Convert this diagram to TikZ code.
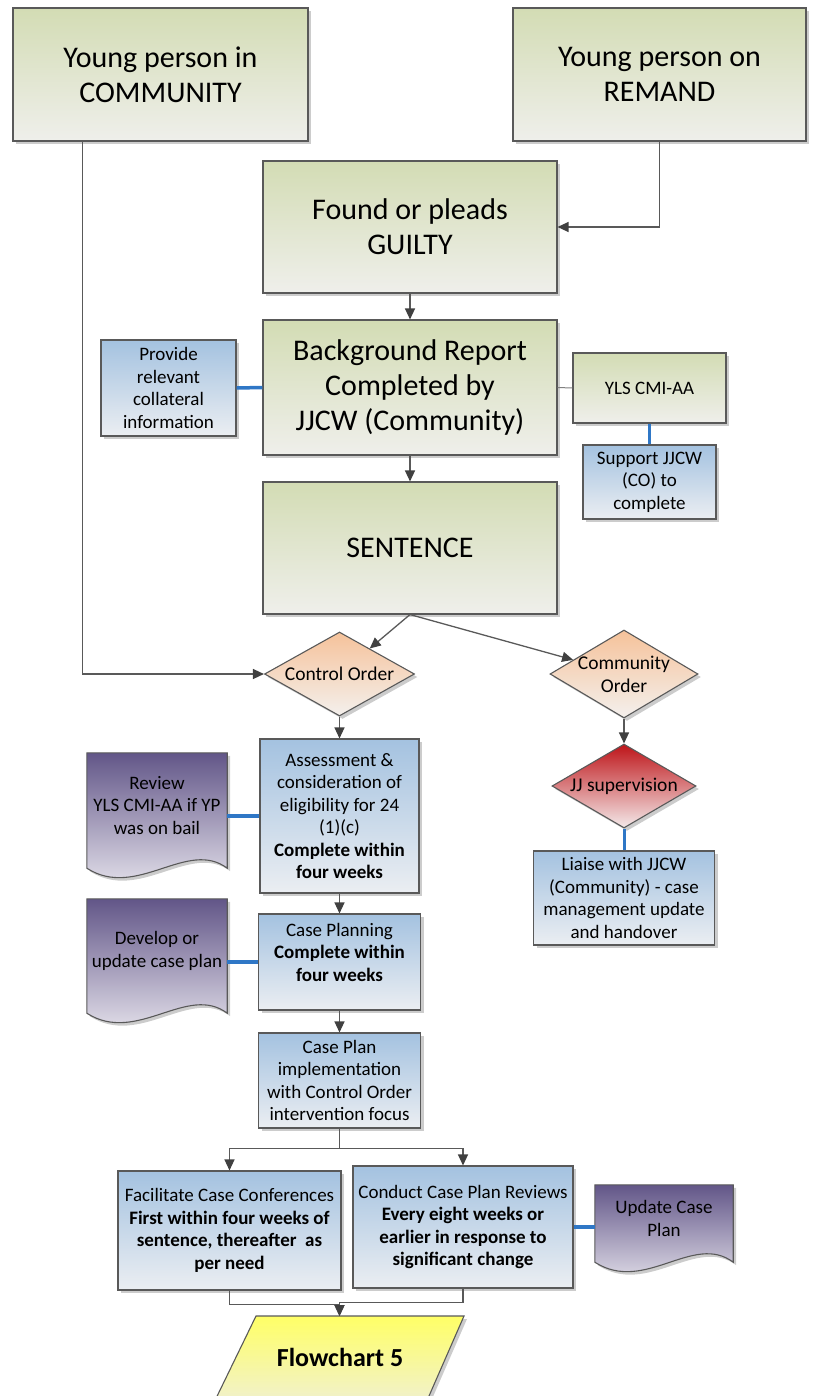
\documentclass[tikz,border=0pt]{standalone}
\usepackage{fontspec}
\setmainfont{Carlito}
\usetikzlibrary{arrows.meta,shapes.geometric,shadows}

\definecolor{linegray}{HTML}{595959}
\definecolor{tipgray}{HTML}{404040}
\definecolor{linkblue}{HTML}{2F77C6}
\definecolor{greentop}{HTML}{D3DCB4}
\definecolor{greenbot}{HTML}{EFEFEB}
\definecolor{bluetop}{HTML}{A4C2E0}
\definecolor{bluebot}{HTML}{EBEEF2}
\definecolor{purptop}{HTML}{625688}
\definecolor{purpbot}{HTML}{F0EEF4}
\definecolor{orangetop}{HTML}{F5C29A}
\definecolor{orangebot}{HTML}{F4F0ED}
\definecolor{redtop}{HTML}{BE1419}
\definecolor{redbot}{HTML}{F4EAEA}
\definecolor{yellowtop}{HTML}{FFFF66}
\definecolor{yellowbot}{HTML}{EEEEE2}

\newcommand{\fbig}{\fontsize{30}{35}\selectfont}
\newcommand{\fsmall}{\fontsize{19}{22.5}\selectfont}
\newcommand{\fyls}{\fontsize{19}{22.5}\selectfont}
\newcommand{\fdia}{\fontsize{19.5}{23}\selectfont}
\newcommand{\fflow}{\fontsize{26}{32}\selectfont\bfseries}

\tikzset{
  shape shadow/.style={drop shadow={shadow xshift=3pt,shadow yshift=-3pt,fill=black,opacity=0.2}},
  box/.style={rectangle, draw=linegray, line width=1.1pt, inner sep=0pt, align=center, shape shadow},
  greenbox/.style={box, top color=greentop, bottom color=greenbot, font=\fbig},
  bluebox/.style={box, top color=bluetop, bottom color=bluebot, font=\fsmall},
  decision/.style={diamond, draw=linegray, line width=1.1pt, inner sep=0pt, shape shadow},
  label text/.style={align=center, inner sep=0pt, font=\fsmall},
  docframe/.style={rectangle, inner sep=0pt},
  docfill/.style={draw=linegray, line width=1.1pt, top color=purptop, bottom color=purpbot},
  flow/.style={draw=linegray, line width=1.3pt},
  arrowed/.style={flow, -{Triangle[length=11pt,width=10pt,color=tipgray]}},
  link/.style={draw=linkblue, line width=3.5pt},
}

% document symbol with a wavy lower edge, drawn over a frame node
\newcommand{\wavydoc}[1]{%
  \fill[black,opacity=0.2]
    ([xshift=3pt,yshift=-3pt]#1.north west) -- ([xshift=3pt,yshift=-3pt]#1.north east)
    -- ([xshift=3pt,yshift=-3pt]#1.south east)
    .. controls +(-40,-30) and +(50,32) .. ([xshift=3pt,yshift=-3pt]#1.south west) -- cycle;
  \path[docfill] (#1.north west) -- (#1.north east) -- (#1.south east)
    .. controls +(-40,-30) and +(50,32) .. (#1.south west) -- cycle;
}

\begin{document}
\begin{tikzpicture}[x=1pt,y=-1pt]
\path[use as bounding box] (0,0) rectangle (814,1396);
\clip (0,0) rectangle (814,1396);

% entry points and court outcome
\node[greenbox, minimum width=295pt, minimum height=133pt] (comm) at (160.5,74.5) {Young person in\\COMMUNITY};
\node[greenbox, minimum width=293pt, minimum height=133pt] (rem) at (659.5,74.5) {Young person on\\REMAND};
\node[greenbox, minimum width=294pt, minimum height=132pt] (guilty) at (410,227) {Found or pleads\\GUILTY};
\node[greenbox, minimum width=294pt, minimum height=135pt] (bg) at (410,387.5) {Background Report\\Completed by\\JJCW (Community)};
\node[bluebox, minimum width=135pt, minimum height=96pt] (prov) at (168.5,388) {Provide\\relevant\\collateral\\information};
\node[box, top color=greentop, bottom color=greenbot, font=\fyls, minimum width=153pt, minimum height=70pt] (yls) at (649.5,388) {YLS CMI-AA};
\node[bluebox, minimum width=133pt, minimum height=74pt] (sup) at (649.5,482) {Support JJCW\\(CO) to\\complete};
\node[greenbox, minimum width=294pt, minimum height=132pt] (sent) at (410,548) {SENTENCE};

% orders
\node[decision, top color=orangetop, bottom color=orangebot, minimum width=150pt, minimum height=84pt] (ctrl) at (339.5,674) {};
\node[label text, font=\fdia] (ctrltext) at (ctrl.center) {Control Order};
\node[decision, top color=orangetop, bottom color=orangebot, minimum width=148pt, minimum height=88pt] (cord) at (624,674) {};
\node[label text, font=\fdia] (cordtext) at (cord.center) {Community\\Order};
\node[decision, top color=redtop, bottom color=redbot, minimum width=144pt, minimum height=84pt] (jj) at (624,786) {};
\node[label text, font=\fdia] (jjtext) at (jj.center) {JJ supervision};
\node[bluebox, minimum width=181pt, minimum height=94pt] (liaise) at (624,898) {Liaise with JJCW\\(Community) - case\\management update\\and handover};

% control order stream
\node[bluebox, minimum width=159pt, minimum height=154pt] (asmt) at (339.5,816) {Assessment \&\\consideration of\\eligibility for 24\\(1)(c)\\\textbf{Complete within}\\\textbf{four weeks}};
\node[bluebox, minimum width=162pt, minimum height=96pt] (cp) at (339.5,962) {};
\node[label text] (cptext) at ([yshift=10pt]cp.center) {Case Planning\\\textbf{Complete within}\\\textbf{four weeks}};
\node[bluebox, minimum width=162pt, minimum height=95pt] (impl) at (339.5,1080.5) {Case Plan\\implementation\\with Control Order\\intervention focus};
\node[bluebox, minimum width=223pt, minimum height=119pt] (fac) at (229.5,1230.5) {Facilitate Case Conferences\\\textbf{First within four weeks of}\\\textbf{sentence, thereafter\ \ as}\\\textbf{per need}};
\node[bluebox, minimum width=220pt, minimum height=122pt] (con) at (463,1227) {Conduct Case Plan Reviews\\\textbf{Every eight weeks or}\\\textbf{earlier in response to}\\\textbf{significant change}};

% supporting documents
\node[docframe, minimum width=140pt, minimum height=115pt] (rev) at (157,810.5) {};
\wavydoc{rev}
\node[label text] (revtext) at ([yshift=5pt]rev.center) {Review\\YLS CMI-AA if YP\\was on bail};
\node[docframe, minimum width=140pt, minimum height=114pt] (dev) at (157,956) {};
\wavydoc{dev}
\node[label text] (devtext) at ([yshift=5pt]dev.center) {Develop or\\update case plan};
\node[docframe, minimum width=138pt, minimum height=77pt] (upd) at (664,1223.5) {};
\wavydoc{upd}
\node[label text] (updtext) at ([yshift=5pt]upd.center) {Update Case\\Plan};

% exit to the next flowchart
\fill[black,opacity=0.2] (259,1319) -- (467,1319) -- (421.5,1423) -- (208.5,1423) -- cycle;
\path[draw=linegray, line width=1.1pt, top color=yellowtop, bottom color=yellowbot]
  (256,1316) -- (464,1316) -- (418.5,1420) -- (205.5,1420) -- cycle;
\coordinate (fctop) at (339.5,1316);
\node[inner sep=0pt, font=\fflow] (fc) at (340,1357) {Flowchart 5};

% connectors
\draw[arrowed] ([xshift=70pt]comm.south west) |- (ctrl.west);
\draw[arrowed] (rem.south) |- (guilty.east);
\draw[arrowed] (guilty.south) -- (bg.north);
\draw[link] (prov.east) -- (bg.west);
\draw[draw=gray, line width=1pt] (bg.east) -- (yls.west);
\draw[link] (yls.south) -- (sup.north);
\draw[arrowed] (bg.south) -- (sent.north);
\draw[arrowed] (sent.south) -- (ctrl);
\draw[arrowed] (sent.south) -- (cord);
\draw[arrowed] (ctrl.south) -- (asmt.north);
\draw[arrowed] (cord.south) -- (jj.north);
\draw[draw=linkblue, line width=3pt] (jj.south) -- (liaise.north);
\draw[link] (asmt.west) -- (asmt.west -| rev.east);
\draw[arrowed] (asmt.south) -- (cp.north);
\draw[link] (cp.west) -- (cp.west -| dev.east);
\draw[arrowed] (cp.south) -- (impl.north);
\draw[arrowed] (impl.south) -- ++(0,20) -| (fac.north);
\draw[arrowed] (impl.south) -- ++(0,20) -| (con.north);
\draw[link] (con.east) -- (con.east -| upd.west);
\draw[arrowed] (fac.south) -- ++(0,14) -| (fctop);
\draw[arrowed] (con.south) -- ++(0,14) -| (fctop);
\end{tikzpicture}
\end{document}
